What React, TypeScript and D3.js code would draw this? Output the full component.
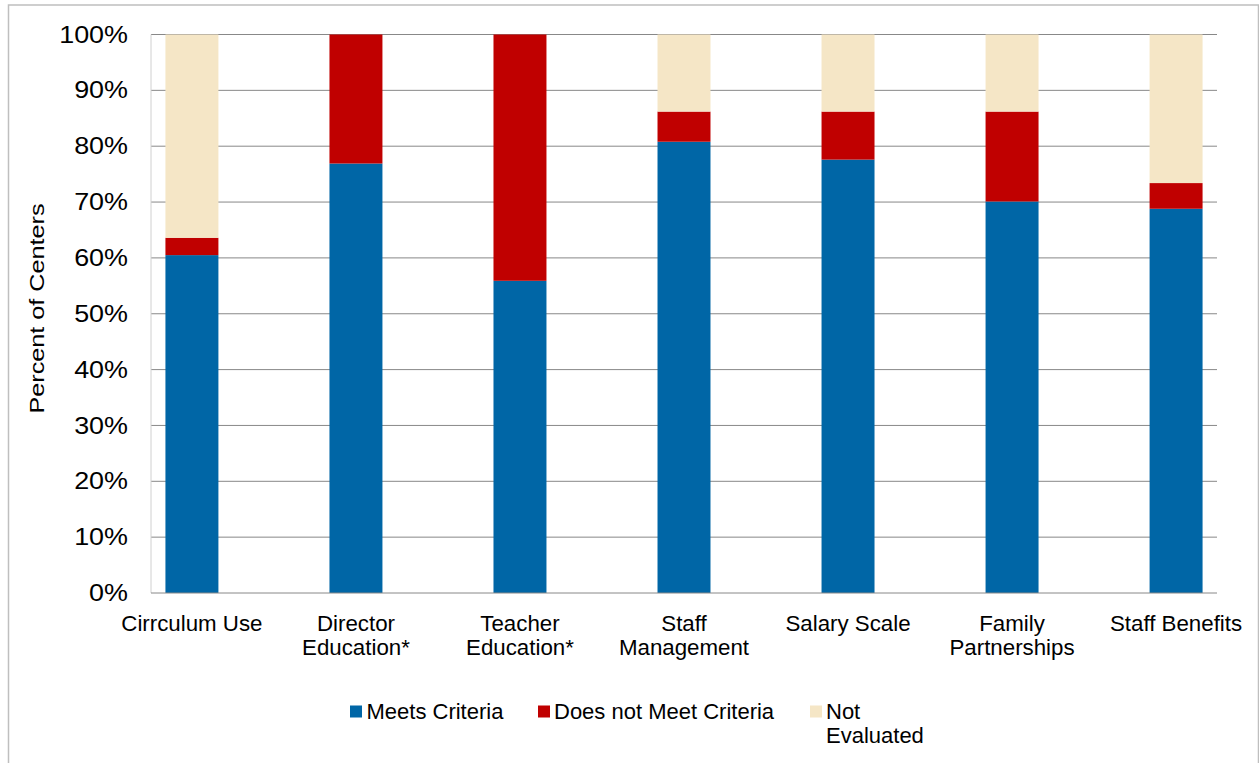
import React from "react";
import * as d3 from "d3";

const categories = [
  "Cirrculum Use",
  "Director Education*",
  "Teacher Education*",
  "Staff Management",
  "Salary Scale",
  "Family Partnerships",
  "Staff Benefits",
];
const categoryLines = [
  ["Cirrculum Use"],
  ["Director", "Education*"],
  ["Teacher", "Education*"],
  ["Staff", "Management"],
  ["Salary Scale"],
  ["Family", "Partnerships"],
  ["Staff Benefits"],
];
const meets = [60.5, 76.9, 55.9, 80.8, 77.6, 70.1, 68.8];
const doesNot = [3.1, 23.1, 44.1, 5.4, 8.6, 16.1, 4.6];
const notEval = [36.4, 0, 0, 13.8, 13.8, 13.8, 26.6];
const seriesNames = ["Meets Criteria", "Does not Meet Criteria", "Not Evaluated"];
const yTicks = [0, 10, 20, 30, 40, 50, 60, 70, 80, 90, 100];

const colors = ["#0066a6", "#c00000", "#f5e6c6"];
const FONT = "'Liberation Sans', Arial, sans-serif";

export default function App() {
  const left = 151, right = 1217, top = 34.5, bottom = 593;
  const x = d3.scaleBand<string>().domain(categories).range([left, right]).paddingInner(0.677).paddingOuter(0.088);
  const y = d3.scaleLinear().domain([0, 100]).range([bottom, top]);

  const rows = categories.map((c, i) => ({ cat: c, m: meets[i], d: doesNot[i], n: notEval[i] }));
  const stack = d3.stack<any>().keys(["m", "d", "n"])(rows);

  const legendItems = [
    { sx: 350, tx: 366.5, lines: ["Meets Criteria"] },
    { sx: 538, tx: 554, lines: ["Does not Meet Criteria"] },
    { sx: 810, tx: 826, lines: ["Not", "Evaluated"] },
  ];

  return (
    <svg width={1259} height={763} style={{ position: "absolute", left: 0, top: 0, display: "block" }} fontFamily={FONT}>
      <rect x={0} y={0} width={1259} height={763} fill="#fff" />
      <rect x={8.5} y={5} width={1250} height={800} fill="none" stroke="#bfbfbf" strokeWidth={1.5} />
      {/* grid */}
      {yTicks.filter((t) => t > 0).map((t) => (
        <line key={t} x1={left} x2={right} y1={y(t)} y2={y(t)} stroke="#888" strokeWidth={1} />
      ))}
      <line x1={left} x2={left} y1={top} y2={bottom} stroke="#d0d0d0" strokeWidth={1} />
      {/* bars */}
      {stack.map((s, si) => (
        <g key={si} fill={colors[si]}>
          {s.map((seg, i) =>
            seg[1] - seg[0] > 0 ? (
              <rect key={i} x={x(categories[i])} width={x.bandwidth()} y={y(seg[1])} height={y(seg[0]) - y(seg[1])} />
            ) : null
          )}
        </g>
      ))}
      <line x1={left} x2={right} y1={bottom} y2={bottom} stroke="#888" strokeWidth={1} />
      {/* y tick labels */}
      {yTicks.map((t) => (
        <g key={t} transform={`translate(128,${y(t)}) scale(1.17,1)`}>
          <text x={0} y={0} dy="0.35em" textAnchor="end" fontSize={23} fill="#000">
            {t}%
          </text>
        </g>
      ))}
      {/* y title */}
      <g transform={`translate(44,308.5) rotate(-90) scale(1.2,1)`}>
        <text x={0} y={0} textAnchor="middle" fontSize={21} fill="#000">
          Percent of Centers
        </text>
      </g>
      {/* category labels */}
      {categories.map((c, i) => (
        <text key={c} x={(x(c) as number) + x.bandwidth() / 2} y={631} textAnchor="middle" fontSize={22.3} fill="#000">
          {categoryLines[i].map((ln, li) => (
            <tspan key={li} x={(x(c) as number) + x.bandwidth() / 2} y={631 + li * 24}>
              {ln}
            </tspan>
          ))}
        </text>
      ))}
      {/* legend */}
      {legendItems.map((it, i) => (
        <g key={i}>
          <rect x={it.sx} y={705.5} width={12} height={12} fill={colors[i]} />
          <text fontSize={22} fill="#000">
            {it.lines.map((ln, li) => (
              <tspan key={li} x={it.tx} y={719 + li * 24}>
                {ln}
              </tspan>
            ))}
          </text>
        </g>
      ))}
    </svg>
  );
}
